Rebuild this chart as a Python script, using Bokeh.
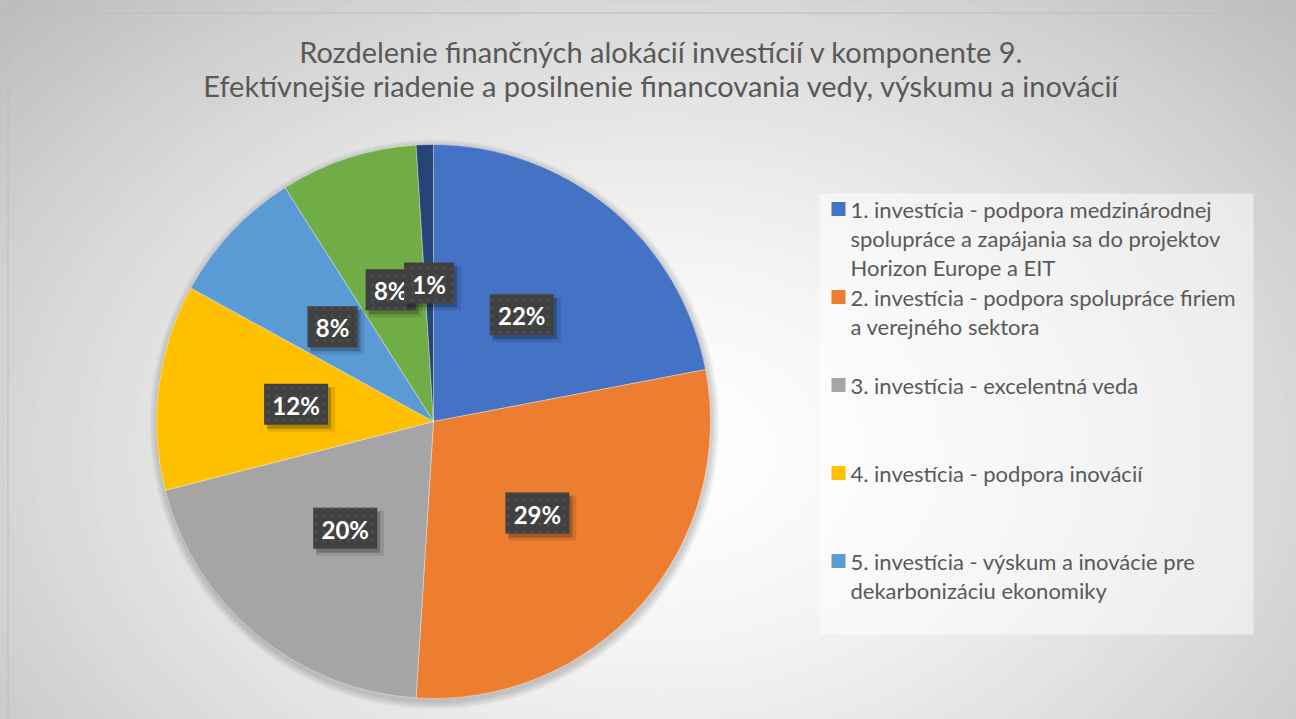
import numpy as np
from bokeh.plotting import figure
from bokeh.models import Range1d, ColumnDataSource
from bokeh.core.properties import value
from bokeh.embed import file_html
from bokeh.resources import INLINE

# ---------------- data ----------------
title_lines = [
    "Rozdelenie finančných alokácií investícií v komponente 9.",
    "Efektívnejšie riadenie a posilnenie financovania vedy, výskumu a inovácií",
]
categories = [
    "1. investícia - podpora medzinárodnej spolupráce a zapájania sa do projektov Horizon Europe a EIT",
    "2. investícia - podpora spolupráce firiem a verejného sektora",
    "3. investícia - excelentná veda",
    "4. investícia - podpora inovácií",
    "5. investícia - výskum a inovácie pre dekarbonizáciu ekonomiky",
    "6. investícia",
    "7. investícia",
]
shares = [22, 29, 20, 12, 8, 8, 1]
colors = ["#4472C4", "#ED7D31", "#A5A5A5", "#FFC000", "#5B9BD5", "#70AD47", "#264478"]
legend_lines = [
    ["1. investícia - podpora medzinárodnej", "spolupráce a zapájania sa do projektov", "Horizon Europe a EIT"],
    ["2. investícia - podpora spolupráce firiem", "a verejného sektora"],
    ["3. investícia - excelentná veda"],
    ["4. investícia - podpora inovácií"],
    ["5. investícia - výskum a inovácie pre", "dekarbonizáciu ekonomiky"],
]

# ---------------- layout ----------------
W, H = 1296, 719
FONT = "Lato"
TXT = "#595959"

p = figure(width=W, height=H, x_range=Range1d(0, W), y_range=Range1d(-H, 0),
           output_backend="svg", toolbar_location=None, min_border=0,
           x_axis_type=None, y_axis_type=None)
p.grid.visible = False
p.outline_line_color = None
p.background_fill_color = "white"
p.border_fill_color = "white"

# chart area background with radial gradient
p.quad(left=7, right=1300, top=-12, bottom=-730, fill_color="#c2c2c2", line_color=None)
gcx, gcy, grx, gry = 660, 450, 900, 640
ds = np.linspace(1.12, 0.0, 70)[:-1]
levels = [int(round(255 - 66 * min(d, 1.0) ** 1.5)) for d in ds]
gcols = ["#%02x%02x%02x" % (l, l, l) for l in levels]
p.ellipse(x=[gcx] * len(ds), y=[-gcy] * len(ds), width=list(2 * grx * ds), height=list(2 * gry * ds),
          fill_color=gcols, line_color=None)
p.line(x=[7, 1300], y=[-12.5, -12.5], line_color="#bcbcbc", line_width=1)
p.line(x=[7.5, 7.5], y=[-12, -730], line_color="#bcbcbc", line_width=1)

# title
for i, t in enumerate(title_lines):
    p.text(x=[661], y=[-(51 + 34 * i)], text=[t], text_align="center", text_baseline="middle",
           text_font=value(FONT), text_font_size="29px", text_color=TXT)

# pie
cx, cy, R = 433, 421, 277
vals = np.array(shares, dtype=float)
frac = vals / vals.sum()
cum_end = np.cumsum(frac)
cum_start = cum_end - frac
start = np.pi / 2 - 2 * np.pi * cum_end
end = np.pi / 2 - 2 * np.pi * cum_start

# soft shadow
for k in range(1, 9):
    p.circle(x=[cx + 1], y=[-(cy + 3)], radius=R + k, fill_color="black", fill_alpha=0.022, line_color=None)

src = ColumnDataSource(dict(start=start, end=end, color=colors, cat=categories))
p.wedge(x=cx, y=-cy, radius=R, start_angle="start", end_angle="end", source=src,
        fill_color="color", line_color="white", line_width=0.5, line_alpha=0.7)

# data labels
mid = (start + end) / 2
lr = 0.5 * R
for i, s in enumerate(shares):
    txt = f"{s}%"
    lx = cx + lr * np.cos(mid[i])
    ly = -cy + lr * np.sin(mid[i])
    w = 22 + 14 * len(txt)
    h = 41
    p.rect(x=[lx + 5], y=[ly - 5], width=w + 4, height=h + 4, fill_color="black", fill_alpha=0.1, line_color=None)
    p.rect(x=[lx + 3], y=[ly - 4], width=w, height=h, fill_color="black", fill_alpha=0.22, line_color=None)
    p.rect(x=[lx], y=[ly], width=w, height=h, fill_color="#404040", line_color=None,
           hatch_pattern="dot", hatch_color="#4b4b4b", hatch_scale=8, hatch_weight=1.5)
    p.text(x=[lx], y=[ly - 1], text=[txt], text_align="center", text_baseline="middle",
           text_font=value(FONT), text_font_style="bold", text_font_size="24px", text_color="white")

# legend
p.quad(left=819, right=1253, top=-193, bottom=-634, fill_color="white", fill_alpha=0.5, line_color=None)
for i, lines in enumerate(legend_lines):
    y0 = 208.5 + 88 * i
    p.rect(x=[838], y=[-y0], width=14, height=14, fill_color=colors[i], line_color=None)
    for j, ln in enumerate(lines):
        p.text(x=[850], y=[-(y0 + 29.3 * j)], text=[ln], text_align="left", text_baseline="middle",
               text_font=value(FONT), text_font_size="22px", text_color=TXT)

open("out.html", "w").write(file_html(p, INLINE))
